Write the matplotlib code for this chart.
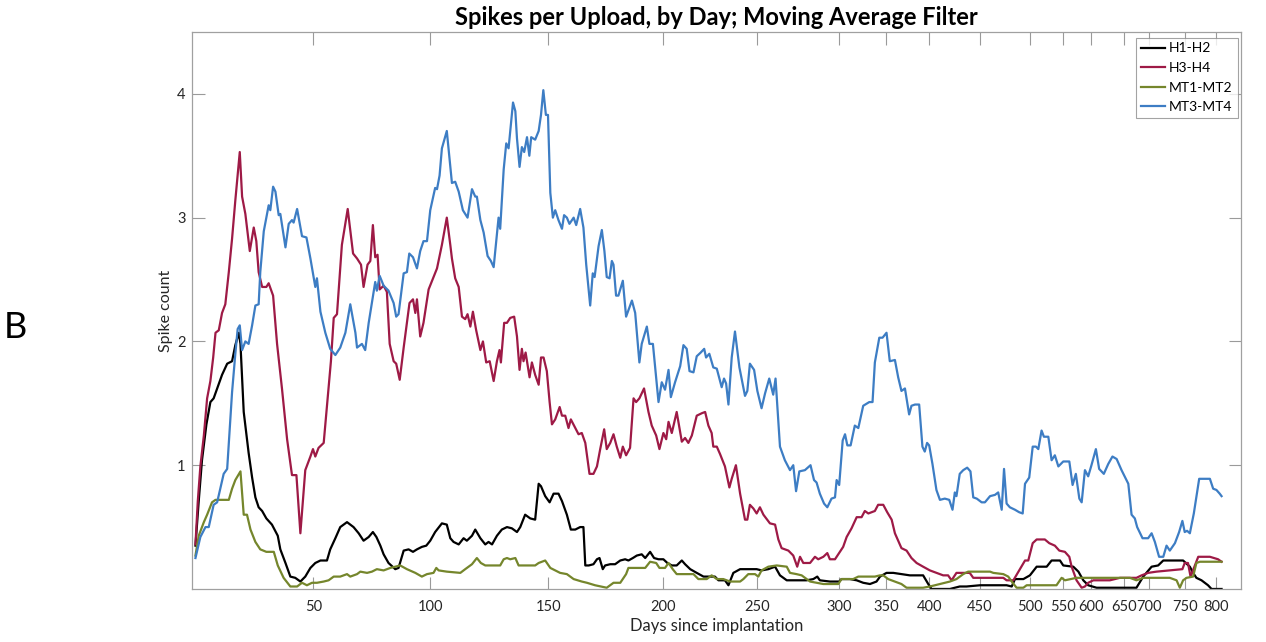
import matplotlib
matplotlib.use("Agg")
import matplotlib.pyplot as plt

# Upload index (x) and moving-average spike count (y)
h12_x = [1.3, 2.7, 4.1, 6.0, 7.7, 9.1, 10.6, 12.7, 14.9, 17.0, 18.4, 19.9, 20.6, 22.0, 24.1, 25.6, 27.0, 28.4,
         29.9, 31.7, 34.1, 36.6, 37.7, 39.9, 42.0, 44.1, 46.3, 48.4, 50.6, 52.7, 54.9, 57.7, 59.1, 61.3, 63.4,
         66.3, 69.1, 71.3, 73.4, 75.6, 77.4, 78.9, 80.6, 82.0, 84.1, 87.0, 88.4, 90.6, 92.7, 94.6, 96.3, 98.4,
         100.3, 102.0, 104.1, 107.0, 109.1, 110.6, 112.0, 114.2, 116.3, 117.7, 119.9, 121.3, 123.5, 125.6,
         127.0, 128.5, 130.6, 132.7, 134.9, 137.0, 139.2, 140.6, 142.7, 144.9, 147.0, 148.5, 149.5, 151.3,
         153.2, 154.9, 157.0, 158.5, 160.6, 162.3, 164.2, 166.3, 167.7, 168.5, 170.0, 172.0, 173.5, 174.6,
         176.0, 177.0, 179.2, 181.3, 183.5, 185.6, 187.0, 188.9, 190.6, 192.7, 194.2, 196.3, 198.0, 199.9,
         202.0, 203.7, 205.6, 207.7, 209.9, 211.3, 213.5, 216.3, 219.2, 222.0, 224.1, 225.6, 228.4, 229.9,
         232.0, 234.9, 242.0, 244.1, 247.0, 249.9, 252.0, 254.9, 259.1, 263.4, 266.3, 268.0, 269.1, 273.4,
         277.4, 278.4, 282.0, 284.9, 287.7, 290.6, 293.4, 294.9, 297.7, 300.6, 307.7, 313.4, 315.6, 317.0,
         324.9, 327.0, 329.1, 332.0, 337.8, 349.2, 351.4, 352.8, 356.4, 359.2, 362.1, 366.4, 368.5, 372.1,
         373.5, 377.8, 380.0, 382.1, 384.2, 387.8, 404.9, 407.8, 411.4, 414.2, 416.4, 424.9, 427.8, 429.2,
         430.6, 432.8, 435.6, 437.1, 441.4]
h12_y = [0.35, 0.71, 1.04, 1.33, 1.51, 1.54, 1.62, 1.73, 1.82, 1.84, 1.97, 2.07, 1.98, 1.43, 1.10, 0.90, 0.74, 0.66,
         0.63, 0.57, 0.52, 0.43, 0.32, 0.21, 0.10, 0.09, 0.06, 0.10, 0.17, 0.21, 0.23, 0.23, 0.32, 0.41, 0.50,
         0.54, 0.50, 0.45, 0.39, 0.42, 0.46, 0.42, 0.35, 0.28, 0.21, 0.16, 0.17, 0.31, 0.32, 0.30, 0.32, 0.34,
         0.35, 0.39, 0.46, 0.53, 0.52, 0.41, 0.38, 0.36, 0.41, 0.39, 0.43, 0.48, 0.41, 0.36,
         0.38, 0.36, 0.43, 0.48, 0.50, 0.49, 0.46, 0.50, 0.60, 0.57, 0.56, 0.85, 0.83, 0.75,
         0.70, 0.77, 0.77, 0.71, 0.60, 0.48, 0.48, 0.50, 0.50, 0.19, 0.19, 0.20, 0.24, 0.25,
         0.16, 0.19, 0.20, 0.20, 0.23, 0.24, 0.23, 0.25, 0.27, 0.28, 0.25, 0.30, 0.25, 0.24,
         0.24, 0.21, 0.19, 0.19, 0.23, 0.20, 0.16, 0.13, 0.10, 0.10, 0.10, 0.07, 0.07, 0.03,
         0.13, 0.16, 0.16, 0.15, 0.16, 0.18, 0.11, 0.07, 0.07, 0.07, 0.08, 0.10, 0.07, 0.06,
         0.06, 0.08, 0.08, 0.07, 0.05, 0.04, 0.06, 0.10, 0.13, 0.13, 0.11, 0.11, 0.04, 0.00,
         0.00, 0.01, 0.02, 0.02, 0.03, 0.03, 0.02, 0.08, 0.08, 0.11, 0.18, 0.18, 0.23, 0.23,
         0.19, 0.18, 0.14, 0.07, 0.03, 0.01, 0.01, 0.10, 0.18, 0.19, 0.23, 0.23, 0.18, 0.13,
         0.09, 0.07, 0.03, 0.00, 0.00]

h34_x = [1.3, 2.3, 3.4, 4.9, 6.3, 7.7, 8.9, 9.9, 11.3, 12.7, 14.1, 15.6, 17.0, 18.4, 20.3, 21.3, 22.7, 24.6, 26.3,
         27.4, 28.4, 29.9, 31.7, 32.7, 34.6, 36.3, 38.4, 40.6, 42.7, 44.6, 46.3, 48.4, 50.6, 51.7, 52.7, 54.1,
         56.3, 57.7, 59.4, 60.6, 62.0, 64.1, 66.6, 68.9, 70.6, 72.3, 73.4, 75.1, 76.3, 77.4, 78.4, 79.4, 80.3,
         82.0, 83.4, 84.6, 86.3, 87.4, 88.9, 90.6, 93.1, 94.6, 95.6, 96.3, 97.7, 99.1, 101.3, 104.9, 107.0,
         109.1, 110.6, 111.3, 112.7, 114.2, 115.6, 117.0, 118.0, 119.2, 120.3, 121.7, 123.5, 124.6, 126.0,
         127.5, 129.2, 130.6, 131.7, 132.3, 133.7, 134.9, 136.3, 138.0, 139.2, 140.3, 141.3, 142.0, 142.9,
         144.6, 145.6, 147.0, 148.5, 149.5, 150.6, 152.0, 153.2, 154.2, 155.6, 157.5, 158.5, 159.9, 161.3,
         162.3, 164.2, 165.6, 167.0, 168.5, 170.3, 172.0, 173.5, 174.9, 176.6, 177.7, 179.2, 180.6, 182.0,
         183.5, 184.6, 186.0, 187.7, 189.2, 190.3, 191.7, 193.7, 195.6, 197.0, 198.9, 200.3, 202.0, 203.2,
         204.2, 205.6, 207.7, 209.9, 211.3, 212.7, 214.2, 216.3, 218.5, 219.9, 221.3, 222.7, 223.4, 224.9,
         226.3, 228.4, 229.4, 230.3, 231.3, 233.1, 234.9, 237.0, 238.0, 239.1, 240.6, 242.0, 243.4, 244.9,
         247.7, 249.9, 251.3, 252.7, 255.6, 257.7, 259.4, 260.6, 262.0, 264.9, 267.0, 268.4, 270.6, 272.3,
         273.4, 275.6, 277.0, 279.1, 280.6, 282.7, 284.9, 287.0, 288.4, 289.9, 291.3, 292.7, 294.1, 296.3,
         298.0, 299.9, 301.3, 304.1, 306.3, 308.4, 310.6, 313.4, 316.3, 319.1, 322.0, 324.1, 325.6, 327.7,
         333.4, 334.9, 347.8, 349.2, 352.1, 357.1, 358.5, 360.4, 362.1, 365.6, 367.5, 369.9, 371.8, 374.2,
         376.1, 377.1, 379.2, 381.4, 382.8, 384.2, 386.4, 393.5, 397.8, 404.9, 407.1, 409.9, 413.5, 419.2,
         424.6, 425.6, 427.0, 428.1, 431.4, 436.4, 439.9, 441.4]
h34_y = [0.36, 0.71, 0.99, 1.24, 1.54, 1.68, 1.87, 2.07, 2.09, 2.23, 2.30, 2.56, 2.83, 3.14, 3.53, 3.17, 3.03, 2.73, 2.92,
         2.81, 2.56, 2.44, 2.44, 2.47, 2.37, 1.98, 1.62, 1.21, 0.92, 0.92, 0.45, 0.96, 1.07, 1.13, 1.07, 1.14,
         1.18, 1.48, 1.84, 2.19, 2.22, 2.78, 3.07, 2.71, 2.67, 2.62, 2.44, 2.62, 2.65, 2.94, 2.68, 2.70, 2.42,
         2.45, 2.40, 1.98, 1.84, 1.82, 1.69, 1.95, 2.31, 2.34, 2.23, 2.34, 2.04, 2.15, 2.42, 2.59, 2.78,
         3.00, 2.78, 2.67, 2.51, 2.44, 2.20, 2.18, 2.22, 2.12, 2.24, 2.09, 1.93, 2.00, 1.83,
         1.84, 1.68, 1.84, 1.93, 1.83, 2.15, 2.15, 2.19, 2.20, 2.04, 1.77, 1.94, 1.84, 1.91,
         1.71, 1.83, 1.73, 1.65, 1.87, 1.87, 1.76, 1.51, 1.33, 1.37, 1.47, 1.40, 1.40, 1.30,
         1.37, 1.30, 1.25, 1.26, 1.18, 0.93, 0.93, 0.99, 1.13, 1.29, 1.13, 1.18, 1.25, 1.15,
         1.06, 1.15, 1.08, 1.14, 1.54, 1.51, 1.54, 1.62, 1.43, 1.32, 1.24, 1.13, 1.26, 1.21,
         1.35, 1.26, 1.43, 1.19, 1.22, 1.18, 1.24, 1.40, 1.42, 1.43, 1.32, 1.26, 1.15, 1.15,
         1.09, 0.99, 0.90, 0.82, 0.89, 1.00, 0.77, 0.56, 0.56, 0.68, 0.65, 0.61, 0.66, 0.60,
         0.53, 0.52, 0.40, 0.33, 0.31, 0.27, 0.18, 0.26, 0.21, 0.21, 0.26, 0.24, 0.26, 0.29,
         0.24, 0.24, 0.28, 0.34, 0.42, 0.49, 0.58, 0.58, 0.63, 0.61, 0.62, 0.63, 0.68, 0.68,
         0.62, 0.56, 0.45, 0.33, 0.31, 0.25, 0.21, 0.18, 0.15, 0.13, 0.11, 0.11, 0.07, 0.13,
         0.13, 0.09, 0.09, 0.07, 0.07, 0.23, 0.23, 0.37, 0.40, 0.40, 0.37, 0.35, 0.31, 0.30,
         0.26, 0.18, 0.07, 0.01, 0.02, 0.05, 0.07, 0.07, 0.09, 0.09, 0.11, 0.13, 0.14, 0.15,
         0.16, 0.21, 0.21, 0.10, 0.26, 0.26, 0.24, 0.22]

mt12_x = [1.3, 2.7, 4.9, 6.3, 8.4, 9.9, 15.6, 17.0, 18.4, 20.6, 22.0, 23.4, 24.9, 27.0, 29.1, 31.7, 34.9, 36.6, 39.1,
          42.0, 44.9, 47.0, 49.1, 51.3, 53.4, 56.3, 58.4, 60.6, 63.4, 66.3, 67.7, 70.6, 72.0, 74.9, 77.0, 79.1,
          82.0, 84.9, 89.1, 92.0, 95.6, 98.4, 100.6, 103.4, 104.6, 105.6, 109.1, 114.9, 117.0, 119.9, 122.0,
          123.7, 125.6, 132.0, 133.5, 134.9, 136.3, 138.5, 139.9, 147.0, 148.5, 151.3, 153.5, 157.7, 160.6,
          163.5, 167.0, 169.2, 172.7, 177.7, 180.6, 183.5, 186.0, 187.0, 189.9, 194.2, 196.3, 198.9, 200.3,
          202.7, 204.2, 206.0, 207.7, 210.6, 214.9, 217.0, 220.6, 222.7, 224.9, 227.7, 230.6, 234.9, 236.3,
          238.4, 241.3, 242.7, 244.1, 247.0, 250.6, 254.9, 256.3, 259.1, 261.3, 264.9, 270.6, 277.0, 278.4,
          283.4, 285.6, 288.4, 292.7, 294.9, 296.3, 298.4, 301.3, 304.1, 306.3, 313.4, 316.3, 320.6, 324.9,
          327.7, 330.6, 332.7, 334.9, 342.1, 343.5, 347.8, 349.9, 351.8, 353.5, 356.4, 357.8, 370.6, 372.8,
          374.2, 379.2, 402.1, 404.9, 407.8, 419.2, 422.1, 423.5, 424.9, 426.4, 429.2, 430.6, 432.1, 441.4]
mt12_y = [0.27, 0.43, 0.54, 0.60, 0.70, 0.72, 0.72, 0.81, 0.88, 0.95, 0.60, 0.60, 0.48, 0.38, 0.32, 0.30, 0.30, 0.19, 0.09,
          0.02, 0.02, 0.05, 0.03, 0.05, 0.05, 0.06, 0.07, 0.10, 0.10, 0.12, 0.10, 0.12, 0.14, 0.13, 0.14, 0.16,
          0.15, 0.17, 0.19, 0.16, 0.13, 0.10, 0.12, 0.13, 0.17, 0.15, 0.14, 0.13, 0.16, 0.20, 0.25,
          0.21, 0.19, 0.19, 0.24, 0.25, 0.24, 0.25, 0.19, 0.19, 0.21, 0.23, 0.17, 0.13, 0.12,
          0.08, 0.06, 0.05, 0.03, 0.01, 0.05, 0.05, 0.12, 0.17, 0.17, 0.17, 0.22, 0.21, 0.17,
          0.17, 0.21, 0.16, 0.12, 0.12, 0.12, 0.08, 0.08, 0.11, 0.08, 0.08, 0.06, 0.06, 0.08,
          0.12, 0.12, 0.10, 0.15, 0.18, 0.19, 0.18, 0.13, 0.12, 0.11, 0.06, 0.04, 0.04, 0.08,
          0.08, 0.10, 0.10, 0.10, 0.11, 0.11, 0.08, 0.06, 0.04, 0.01, 0.01, 0.02, 0.04, 0.06,
          0.08, 0.12, 0.14, 0.14, 0.14, 0.13, 0.12, 0.10, 0.05, 0.01, 0.01, 0.03, 0.03, 0.09,
          0.07, 0.09, 0.09, 0.07, 0.09, 0.09, 0.07, 0.01, 0.07, 0.09, 0.10, 0.21, 0.22, 0.22]

mt34_x = [1.3, 3.4, 5.6, 7.0, 9.1, 10.6, 13.4, 14.9, 17.0, 18.4, 19.4, 20.3, 21.3, 22.7, 24.1, 25.6, 27.0, 28.4, 29.1,
          30.6, 32.7, 33.4, 34.6, 35.6, 37.0, 37.7, 39.9, 41.3, 42.7, 43.4, 44.9, 47.0, 48.9, 50.6, 52.7, 53.4,
          54.9, 57.0, 59.1, 61.3, 63.4, 65.6, 67.7, 69.9, 70.6, 72.7, 74.1, 75.6, 78.4, 79.1, 80.3, 82.0, 84.1,
          86.3, 87.4, 88.4, 90.6, 92.0, 93.0, 94.6, 96.3, 97.7, 99.1, 100.6, 102.0, 104.1, 104.9, 106.0, 107.0,
          109.1, 111.3, 112.7, 114.2, 116.0, 118.0, 119.9, 121.3, 122.0, 123.5, 124.9, 126.6, 128.0, 129.2,
          131.3, 132.0, 133.5, 134.6, 135.6, 137.5, 138.5, 139.2, 140.3, 141.3, 142.3, 143.5, 144.5, 145.3,
          147.0, 148.5, 149.5, 150.5, 151.6, 152.5, 153.5, 154.6, 155.6, 157.0, 158.5, 159.4, 160.6, 161.7,
          163.5, 164.6, 166.3, 167.7, 168.9, 170.6, 171.7, 172.5, 174.2, 175.6, 176.7, 177.7, 178.9, 179.9,
          180.6, 181.7, 182.7, 184.6, 186.0, 188.5, 189.9, 191.7, 192.7, 194.9, 196.0, 197.5, 199.9, 201.3,
          202.7, 204.2, 205.2, 207.0, 209.2, 210.6, 212.0, 213.2, 214.9, 216.3, 218.0, 219.5, 220.3, 221.7,
          223.4, 224.9, 227.0, 228.0, 228.9, 229.9, 231.3, 232.7, 234.6, 237.0, 238.0, 239.1, 240.9, 242.3,
          244.1, 245.6, 247.4, 249.1, 250.1, 252.0, 254.1, 256.3, 257.7, 258.9, 260.3, 262.7, 265.1, 266.6,
          267.7, 269.1, 270.9, 272.3, 274.1, 275.6, 276.3, 277.4, 278.9, 279.9, 280.9, 282.3, 284.1, 285.6,
          287.7, 290.3, 291.7, 292.7, 294.6, 296.0, 297.7, 299.1, 301.3, 302.7, 304.1, 305.6, 307.4, 308.4,
          309.9, 311.7, 313.1, 314.1, 315.1, 316.0, 317.4, 319.1, 320.6, 322.7, 324.6, 326.0, 327.0, 327.7,
          329.1, 330.6, 332.3, 333.7, 334.9, 336.4, 338.5, 339.9, 342.1, 344.2, 345.6, 347.1, 348.1, 349.2,
          350.6, 352.8, 354.6, 356.1, 357.1, 358.9, 360.4, 361.8, 362.8, 364.2, 365.2, 367.1, 368.5, 369.9,
          371.4, 373.5, 376.1, 377.5, 378.9, 380.4, 381.4, 382.8, 384.2, 385.6, 387.5, 388.9, 390.9, 392.8,
          394.6, 396.4, 398.5, 401.4, 402.8, 404.2, 405.2, 407.5, 409.9, 411.4, 412.8, 414.6, 416.4, 417.8,
          419.2, 421.4, 423.2, 424.6, 425.6, 426.6, 427.8, 429.5, 431.8, 433.5, 436.4, 437.8, 439.2, 440.6,
          441.4]
mt34_y = [0.25, 0.42, 0.50, 0.50, 0.68, 0.70, 0.93, 0.97, 1.59, 1.90, 2.10, 2.13, 1.93, 2.00, 1.98, 2.13, 2.29, 2.30, 2.56,
          2.89, 3.10, 3.06, 3.25, 3.21, 3.02, 3.03, 2.76, 2.95, 2.98, 2.96, 3.07, 2.85, 2.84, 2.67, 2.44, 2.51,
          2.24, 2.07, 1.94, 1.89, 1.95, 2.07, 2.30, 2.07, 1.95, 1.98, 1.93, 2.15, 2.48, 2.41, 2.53, 2.45, 2.41,
          2.31, 2.20, 2.22, 2.55, 2.56, 2.71, 2.68, 2.59, 2.73, 2.81, 2.81, 3.06, 3.24, 3.23, 3.34, 3.56,
          3.70, 3.28, 3.29, 3.21, 3.06, 3.00, 3.23, 3.17, 3.17, 2.98, 2.88, 2.69, 2.65, 2.60,
          3.00, 2.91, 3.39, 3.60, 3.56, 3.93, 3.86, 3.64, 3.41, 3.57, 3.53, 3.65, 3.50, 3.65,
          3.63, 3.70, 3.83, 4.03, 3.83, 3.83, 3.20, 3.00, 3.06, 2.98, 2.91, 3.02, 3.00, 2.95,
          3.00, 2.94, 3.07, 2.92, 2.62, 2.29, 2.55, 2.52, 2.77, 2.90, 2.73, 2.52, 2.51, 2.65,
          2.62, 2.37, 2.37, 2.49, 2.20, 2.33, 2.23, 1.83, 1.98, 2.12, 1.98, 1.98, 1.51, 1.67,
          1.61, 1.77, 1.55, 1.67, 1.80, 1.97, 1.94, 1.76, 1.75, 1.88, 1.91, 1.94, 1.87, 1.90,
          1.79, 1.78, 1.63, 1.70, 1.66, 1.49, 1.87, 2.08, 1.79, 1.56, 1.60, 1.82, 1.77, 1.60,
          1.46, 1.58, 1.70, 1.57, 1.70, 1.15, 1.04, 0.96, 1.00, 0.79, 0.95, 0.96, 1.00, 0.88,
          0.86, 0.77, 0.69, 0.66, 0.73, 0.74, 0.88, 0.84, 1.20, 1.25, 1.16, 1.16, 1.32, 1.30,
          1.48, 1.51, 1.51, 1.83, 2.03, 2.03, 2.07, 1.84, 1.85, 1.71, 1.60, 1.62, 1.41, 1.48,
          1.49, 1.49, 1.15, 1.11, 1.18, 1.16, 1.01, 0.80, 0.72, 0.73, 0.72, 0.64, 0.78, 0.75,
          0.93, 0.96, 0.98, 0.95, 0.74, 0.73, 0.70, 0.70, 0.75, 0.76, 0.78, 0.64, 0.97, 0.69,
          0.66, 0.64, 0.62, 0.61, 0.85, 0.90, 1.15, 1.15, 1.13, 1.28, 1.23, 1.23, 1.04, 1.08,
          0.99, 1.03, 1.03, 0.84, 0.93, 0.73, 0.70, 0.96, 0.91, 1.00, 1.13, 0.97, 0.93, 1.01,
          1.07, 1.05, 0.96, 0.85, 0.60, 0.57, 0.50, 0.41, 0.41, 0.45, 0.38, 0.26, 0.26, 0.35,
          0.31, 0.37, 0.46, 0.55, 0.46, 0.47, 0.45, 0.61, 0.89, 0.89, 0.89, 0.81, 0.80, 0.77,
          0.75]

# Day labels and the upload index at which each day is reached
tick_days = [50, 100, 150, 200, 250, 300, 350, 400, 450, 500, 550, 600, 650, 700, 750, 800]
tick_upload = [51.9, 102.0, 152.6, 201.9, 242.2, 277.4, 297.5, 316.0, 337.8, 359.3, 373.4, 385.4,
               399.6, 410.3, 425.7, 439.0]

plt.rcParams['font.family'] = ['Lato', 'DejaVu Sans']

fig = plt.figure(figsize=(12.66, 6.42), dpi=100)
ax = fig.add_axes([0.152, 0.0826, 0.828, 0.8676])

ax.plot(h12_x, h12_y, color='black', lw=1.6, label='H1-H2')
ax.plot(h34_x, h34_y, color='#9E1A46', lw=1.6, label='H3-H4')
ax.plot(mt12_x, mt12_y, color='#75862C', lw=1.6, label='MT1-MT2')
ax.plot(mt34_x, mt34_y, color='#3D7DC4', lw=1.6, label='MT3-MT4')

ax.set_xlim(0, 449.6)
ax.set_ylim(0, 4.5)
ax.set_xticks(tick_upload)
ax.set_xticklabels([str(d) for d in tick_days])
ax.set_yticks([1, 2, 3, 4])
ax.tick_params(direction='in', length=9, width=0.8, color='#9a9a9a',
               labelsize=10.5, labelcolor='#262626', top=True, right=True)
ax.tick_params(axis='x', pad=8)
ax.tick_params(axis='y', pad=5)
for s in ax.spines.values():
    s.set_color('#a0a0a0')
    s.set_linewidth(0.9)

ax.set_title('Spikes per Upload, by Day; Moving Average Filter', fontsize=17,
             fontweight='bold', pad=5)
ax.set_xlabel('Days since implantation', fontsize=12, color='#262626', labelpad=3)
ax.set_ylabel('Spike count', fontsize=11.5, color='#262626', labelpad=3)

leg = ax.legend(loc='upper right', bbox_to_anchor=(0.997, 0.99), borderaxespad=0,
                fontsize=10, frameon=True, fancybox=False, handlelength=1.7,
                labelspacing=0.55, borderpad=0.35, handletextpad=0.3)
leg.get_frame().set_edgecolor('#8c8c8c')
leg.get_frame().set_linewidth(0.8)

fig.text(0.003, 0.49, 'B', fontsize=26, color='black', va='center', ha='left')

fig.savefig('out.png', dpi=100)
